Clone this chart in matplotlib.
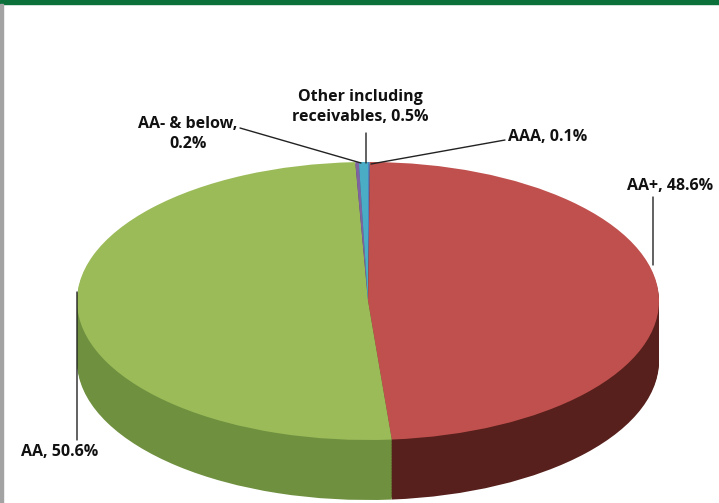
import matplotlib.pyplot as plt
from matplotlib.patches import Rectangle

# data (Excel order, clockwise from 12 o'clock)
labels = ['AAA', 'AA+', 'AA', 'AA- & below', 'Other including\nreceivables']
shares = [0.1, 48.6, 50.6, 0.2, 0.5]
top_colors = ['#4f81bd', '#c0504d', '#9bbb59', '#8064a2', '#4bacc6']
side_colors = ['#2f4d72', '#57201c', '#6f903f', '#4c3b61', '#2d6878']

W, H = 719, 503
cx, cy, a, b = 368, 301, 291, 139   # pie centre and half-axes in pixels
depth = 60                           # thickness of the pie in pixels

fig = plt.figure(figsize=(W / 100, H / 100), dpi=100)
ax = fig.add_axes([0, 0, 1, 1])

# side of the pie: stack of shifted pies, darker colours
n = 40
for i in range(n, 0, -1):
    dy = depth / b * i / n
    ax.pie(shares, colors=side_colors, startangle=90, counterclock=False,
           center=(0, -dy), radius=1, wedgeprops=dict(linewidth=0))
# top face
ax.pie(shares, colors=top_colors, startangle=90, counterclock=False,
       center=(0, 0), radius=1, wedgeprops=dict(linewidth=0))

ax.set_aspect('auto')
ax.set_xlim((0 - cx) / a, (W - cx) / a)
ax.set_ylim((cy - H) / b, cy / b)
ax.axis('off')

# frame decorations
fig.patches.append(Rectangle((0, H - 4), W, 4, transform=None, color='#0b7039', zorder=5))
fig.patches.append(Rectangle((0, 0), 3, H - 4, transform=None, color='#a3a3a3', zorder=5))

font = dict(family=['Open Sans', 'DejaVu Sans'], weight='bold', fontsize=11.5, color='#111111')
line = dict(arrowstyle='-', color='#222222', lw=1, shrinkA=0, shrinkB=0)

def lab(text, xy, xyt, lxy):
    ax.annotate(text, xy=(xy[0], H - xy[1]), xycoords='figure pixels',
                xytext=(xyt[0], H - xyt[1]), textcoords='figure pixels',
                ha='center', va='center', linespacing=1.35, **font)
    ax.annotate('', xy=(xy[0], H - xy[1]), xycoords='figure pixels',
                xytext=(lxy[0], H - lxy[1]), textcoords='figure pixels',
                arrowprops=line)

lab(f'{labels[4]}, {shares[4]}%', (366, 163), (360, 107), (366, 133))
lab(f'{labels[3]},\n{shares[3]}%', (361, 163), (188, 134), (240, 128))
lab(f'{labels[0]}, {shares[0]}%', (371, 164), (548, 137), (505, 140))
lab(f'{labels[1]}, {shares[1]}%', (653, 265), (670, 186), (653, 197))
lab(f'{labels[2]}, {shares[2]}%', (77, 292), (60, 452), (77, 440))

fig.savefig('out.png', dpi=100)
